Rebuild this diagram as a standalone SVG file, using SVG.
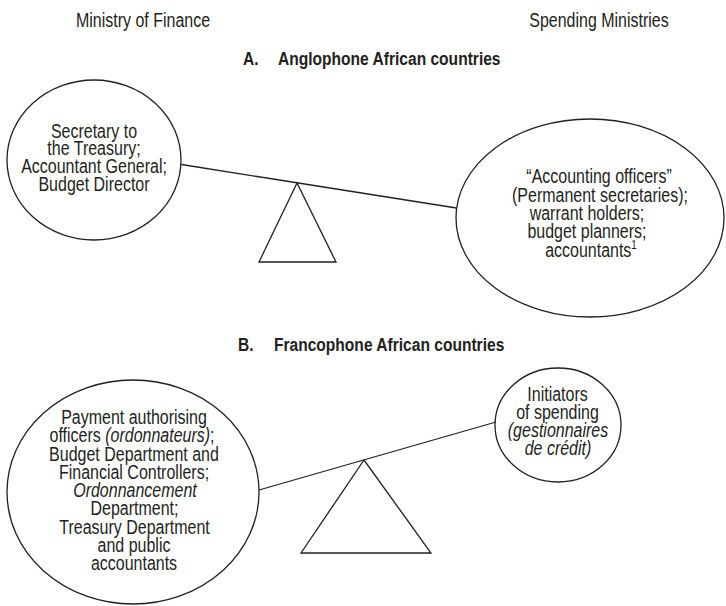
<svg xmlns="http://www.w3.org/2000/svg" width="726" height="606" viewBox="0 0 726 606">
  <style>
    text { font-family: "Liberation Sans", Arial, sans-serif; fill: #231f20; }
    .body { font-size: 19.5px; text-anchor: middle; }
    .head { font-size: 19px; font-weight: bold; }
    .it { font-style: italic; }
    .shape { fill: none; stroke: #231f20; stroke-width: 1.3; }
  </style>

  <!-- Text groups are squeezed horizontally (scale 0.82) to give a condensed face;
       x values inside them are offsets from the group's centre, divided by 0.82. -->

  <!-- column labels -->
  <g id="label-finance" transform="translate(143 0) scale(0.82 1)">
    <text class="body" x="0" y="27">Ministry of Finance</text>
  </g>
  <g id="label-spending" transform="translate(599 0) scale(0.82 1)">
    <text class="body" x="0" y="27">Spending Ministries</text>
  </g>

  <!-- section headings -->
  <g id="headings" transform="scale(0.82 1)">
    <text class="head" x="296.3" y="65">A.</text>
    <text class="head" x="339" y="65">Anglophone African countries</text>
    <text class="head" x="290.2" y="351">B.</text>
    <text class="head" x="334.1" y="351">Francophone African countries</text>
  </g>

  <!-- balance beams and fulcrums -->
  <g id="connectors">
    <line class="shape" x1="181.5" y1="164.5" x2="456.5" y2="208"/>
    <polygon class="shape" points="297,183 259,262 336,262"/>
    <line class="shape" x1="259" y1="490" x2="496" y2="422"/>
    <polygon class="shape" points="364,460 301,553 431,553"/>
  </g>

  <!-- A: Ministry of Finance -->
  <g id="a-finance">
    <ellipse class="shape" cx="94" cy="160" rx="87" ry="80"/>
    <g transform="translate(94 0) scale(0.82 1)">
      <text class="body" x="0" y="137.7">Secretary to</text>
      <text class="body" x="0" y="155.4">the Treasury;</text>
      <text class="body" x="0" y="173.1">Accountant General;</text>
      <text class="body" x="0" y="190.8">Budget Director</text>
    </g>
  </g>

  <!-- A: Spending ministries -->
  <g id="a-spending">
    <ellipse class="shape" cx="590" cy="218" rx="134" ry="99"/>
    <g transform="translate(590 0) scale(0.82 1)">
      <text class="body" x="11" y="183.5">“Accounting officers”</text>
      <text class="body" x="12.2" y="201.8">(Permanent secretaries);</text>
      <text class="body" x="-3.7" y="220.1">warrant holders;</text>
      <text class="body" x="-3.7" y="238.4">budget planners;</text>
      <text class="body" x="1.2" y="256.7">accountants<tspan font-size="12" dy="-8">1</tspan></text>
    </g>
  </g>

  <!-- B: Ministry of Finance -->
  <g id="b-finance">
    <ellipse class="shape" cx="133" cy="492" rx="126" ry="112"/>
    <g transform="translate(134 0) scale(0.82 1)">
      <text class="body" x="0" y="424">Payment authorising</text>
      <text class="body" x="-2.4" y="442.3">officers <tspan class="it">(ordonnateurs)</tspan>;</text>
      <text class="body" x="0" y="460.6">Budget Department and</text>
      <text class="body" x="0" y="478.9">Financial Controllers;</text>
      <text class="body it" x="1.2" y="497.2">Ordonnancement</text>
      <text class="body" x="0.6" y="515.5">Department;</text>
      <text class="body" x="0.6" y="533.8">Treasury Department</text>
      <text class="body" x="0" y="552.1">and public</text>
      <text class="body" x="0" y="570.4">accountants</text>
    </g>
  </g>

  <!-- B: Spending ministries -->
  <g id="b-spending">
    <ellipse class="shape" cx="558" cy="425" rx="63" ry="57"/>
    <g transform="translate(558 0) scale(0.82 1)">
      <text class="body" x="-0.6" y="400.7">Initiators</text>
      <text class="body" x="-0.6" y="418.7">of spending</text>
      <text class="body it" x="0" y="436.7">(gestionnaires</text>
      <text class="body it" x="0" y="454.7">de crédit)</text>
    </g>
  </g>
</svg>
